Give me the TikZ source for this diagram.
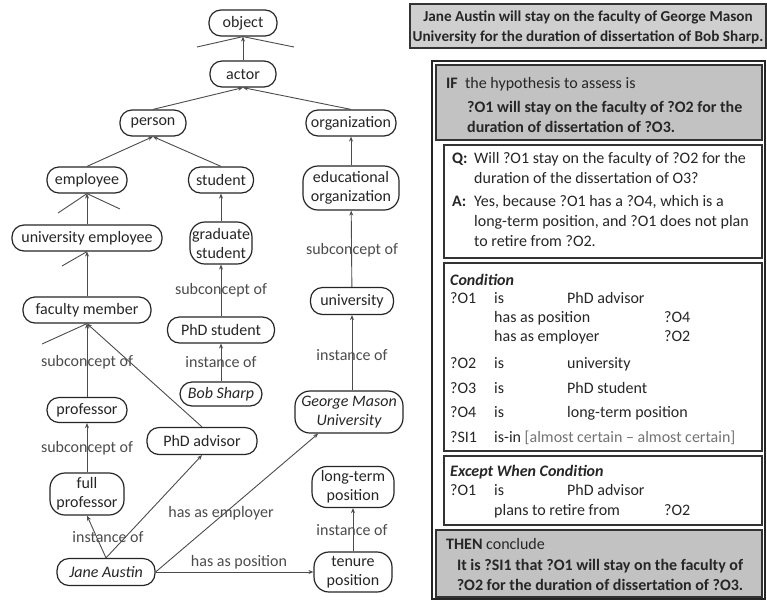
\documentclass[tikz,border=0pt]{standalone}
\usepackage{fontspec}
\setmainfont{Carlito}
\usetikzlibrary{arrows.meta}
\newcommand\myfs{\fontsize{16}{19}\selectfont}
\newcommand\myfstitle{\fontsize{15.2}{18}\selectfont}
\begin{document}
\begin{tikzpicture}[x=1pt,y=-1pt,
  concept/.style={draw=black!85, line width=1.2pt, rounded corners=12pt, inner sep=1pt, align=center, font=\myfs, text=black!85},
  twoline/.style={rounded corners=15pt},
  link/.style={draw=black!70, line width=0.9pt, -{Stealth[length=5pt,width=4pt]}},
  stub/.style={draw=black!70, line width=0.9pt},
  elabel/.style={font=\myfs, text=black!70, inner sep=0pt},
  txt/.style={anchor=base west, inner sep=0pt, font=\myfs, text=black!85},
  ctxt/.style={anchor=base, inner sep=0pt, font=\myfs, text=black!85},
  panel/.style={draw=black!80, line width=1.1pt},
]
\useasboundingbox (0,0) rectangle (767,603);
\fill[white] (0,0) rectangle (767,603);

% ---------------- concept graph ----------------
\node[concept, minimum width=68pt, minimum height=26pt] (obj) at (243,23) {object};
\node[concept, minimum width=66pt, minimum height=26pt] (actor) at (243,74) {actor};
\node[concept, minimum width=66pt, minimum height=26pt] (person) at (153,123) {person};
\node[concept, minimum width=90pt, minimum height=26pt] (org) at (351,123) {organization};
\node[concept, minimum width=80pt, minimum height=26pt] (employee) at (87,180) {employee};
\node[concept, minimum width=65pt, minimum height=26pt] (student) at (221,180) {student};
\node[concept, twoline, minimum width=96pt, minimum height=44pt] (educorg) at (351,188) {educational\\organization};
\node[concept, minimum width=150pt, minimum height=26pt] (univemp) at (87,238) {university employee};
\node[concept, twoline, minimum width=62pt, minimum height=42pt] (gradstud) at (221,243) {graduate\\student};
\node[concept, minimum width=128pt, minimum height=26pt] (faculty) at (87,310) {faculty member};
\node[concept, minimum width=107pt, minimum height=26pt] (phdstud) at (221,330) {PhD student};
\node[concept, minimum width=83pt, minimum height=27pt] (univ) at (352,301) {university};
\node[concept, minimum width=82pt, minimum height=24pt] (bob) at (221,394) {\itshape Bob Sharp};
\node[concept, twoline, minimum width=108pt, minimum height=42pt] (gmu) at (349,412) {\itshape George Mason\\\itshape University};
\node[concept, minimum width=80pt, minimum height=25pt] (prof) at (87,410) {professor};
\node[concept, minimum width=110pt, minimum height=27pt] (phdadv) at (202,441) {PhD advisor};
\node[concept, twoline, minimum width=74pt, minimum height=42pt] (fullprof) at (87,494) {full\\professor};
\node[concept, twoline, minimum width=82pt, minimum height=41pt] (longterm) at (353,487) {long-term\\position};
\node[concept, minimum width=98pt, minimum height=27pt] (jane) at (106,572) {\itshape Jane Austin};
\node[concept, twoline, minimum width=78pt, minimum height=40pt] (tenure) at (353,572) {tenure\\position};

% stubs (truncated links)
\coordinate (s1) at (197,47);
\coordinate (s2) at (294,47);
\coordinate (s3) at (58,213);
\coordinate (s4) at (120,209);
\coordinate (s5) at (62,266);
\coordinate (s6) at (42,344);
\draw[stub] (obj.south) -- (s1);
\draw[stub] (obj.south) -- (s2);
\draw[stub] (employee.south) -- (s3);
\draw[stub] (employee.south) -- (s4);
\draw[stub] (univemp.south) -- (s5);
\draw[stub] (faculty.south) -- (s6);

% links
\draw[link] (actor) -- (obj);
\draw[link] (person.north) -- (actor.south);
\draw[link] (org.north) -- (actor.south);
\draw[link] (employee.north) -- (person.south);
\draw[link] (student.north) -- (person.south);
\draw[link] (educorg) -- (org);
\draw[link] (univemp) -- (employee);
\draw[link] (gradstud) -- (student);
\draw[link] (faculty) -- (univemp);
\draw[link] (phdstud) -- (gradstud);
\draw[link] (univ) -- (educorg);
\draw[link] (prof) -- (faculty);
\draw[link] (phdadv.north) -- (faculty.south);
\draw[link] (bob) -- (phdstud);
\draw[link] (univ.south |- gmu.north) -- (univ.south);
\draw[link] (fullprof) -- (prof);
\draw[link] (jane.north) -- (fullprof.south);
\draw[link] (jane.north) -- (phdadv.south);
\draw[link] (jane.east) -- (gmu.215);
\draw[link] (jane.east) -- (tenure.west);
\draw[link] (tenure) -- (longterm);

% link labels
\node[elabel] (l1) at (221,290) {subconcept of};
\node[elabel] (l2) at (352,250) {subconcept of};
\node[elabel] (l3) at (87,362) {subconcept of};
\node[elabel] (l4) at (221,362) {instance of};
\node[elabel] (l5) at (352,355) {instance of};
\node[elabel] (l6) at (87,448) {subconcept of};
\node[elabel] (l7) at (108,537) {instance of};
\node[elabel] (l8) at (221,513) {has as employer};
\node[elabel] (l9) at (352,530) {instance of};
\node[elabel] (l10) at (239,562) {has as position};

% ---------------- rule panel ----------------
\draw[panel, fill=black!19] (410,4) rectangle (766,48);
\node[ctxt, font=\myfstitle\bfseries] (t1) at (588,21) {Jane Austin will stay on the faculty of George Mason};
\node[ctxt, font=\myfstitle\bfseries] (t2) at (588,41) {University for the duration of dissertation of Bob Sharp.};

\draw[draw=black!85, line width=2.2pt] (432,61) rectangle (765,599);

\draw[panel, fill=black!24] (436,65) rectangle (762,140);
\node[txt] (if1) at (446,88) {\textbf{IF}\ \ the hypothesis to assess is};
\node[txt, font=\myfs\bfseries] (if2) at (467,112) {?O1 will stay on the faculty of ?O2 for the};
\node[txt, font=\myfs\bfseries] (if3) at (467,132) {duration of dissertation of ?O3.};

\draw[panel, fill=white] (444,145) rectangle (762,258);
\node[txt] (q0) at (452,163) {\textbf{Q:}};
\node[txt] (q1) at (474,163) {Will ?O1 stay on the faculty of ?O2 for the};
\node[txt] (q2) at (474,183) {duration of the dissertation of O3?};
\node[txt] (a0) at (452,206) {\textbf{A:}};
\node[txt] (a1) at (474,206) {Yes, because ?O1 has a ?O4, which is a};
\node[txt] (a2) at (474,226) {long-term position, and ?O1 does not plan};
\node[txt] (a3) at (474,246) {to retire from ?O2.};

\draw[panel, fill=white] (444,263) rectangle (762,451);
\node[txt, font=\myfs\bfseries\itshape] (c0) at (450,285) {Condition};
\node[txt] (c1a) at (450,303) {?O1};
\node[txt] (c1b) at (494,303) {is};
\node[txt] (c1c) at (567,303) {PhD advisor};
\node[txt] (c2a) at (494,322) {has as position};
\node[txt] (c2b) at (664,322) {?O4};
\node[txt] (c3a) at (494,341) {has as employer};
\node[txt] (c3b) at (664,341) {?O2};
\node[txt] (c4a) at (450,368) {?O2};
\node[txt] (c4b) at (494,368) {is};
\node[txt] (c4c) at (567,368) {university};
\node[txt] (c5a) at (450,393) {?O3};
\node[txt] (c5b) at (494,393) {is};
\node[txt] (c5c) at (567,393) {PhD student};
\node[txt] (c6a) at (450,417) {?O4};
\node[txt] (c6b) at (494,417) {is};
\node[txt] (c6c) at (567,417) {long-term position};
\node[txt] (c7a) at (450,442) {?SI1};
\node[txt] (c7b) at (494,442) {is-in \textcolor{black!55}{[almost certain -- almost certain]}};

\draw[panel, fill=white] (444,456) rectangle (762,525);
\node[txt, font=\myfs\bfseries\itshape] (e0) at (450,476) {Except When Condition};
\node[txt] (e1a) at (450,495) {?O1};
\node[txt] (e1b) at (494,495) {is};
\node[txt] (e1c) at (567,495) {PhD advisor};
\node[txt] (e2a) at (494,515) {plans to retire from};
\node[txt] (e2b) at (664,515) {?O2};

\draw[panel, fill=black!24] (436,530) rectangle (762,597);
\node[txt] (th0) at (446,549) {\textbf{THEN} conclude};
\node[ctxt, font=\myfs\bfseries] (th1) at (600,570) {It is ?SI1 that ?O1 will stay on the faculty of};
\node[ctxt, font=\myfs\bfseries] (th2) at (600,590) {?O2 for the duration of dissertation of ?O3.};
\end{tikzpicture}
\end{document}
